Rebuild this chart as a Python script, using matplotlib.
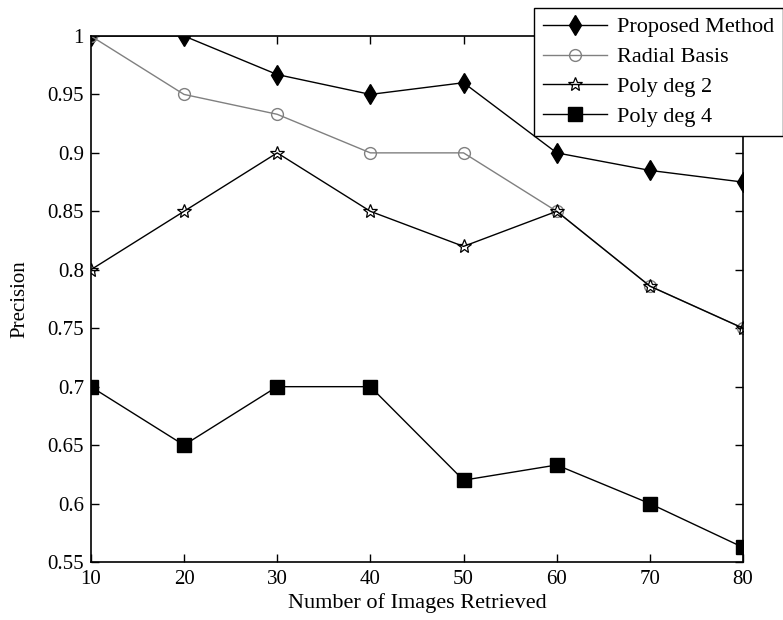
import matplotlib
matplotlib.use("Agg")
import matplotlib.pyplot as plt

x = [10, 20, 30, 40, 50, 60, 70, 80]
proposed = [1.0, 1.0, 0.967, 0.95, 0.96, 0.9, 0.885, 0.875]
radial = [1.0, 0.95, 0.933, 0.9, 0.9, 0.85, 0.786, 0.75]
poly2 = [0.8, 0.85, 0.9, 0.85, 0.82, 0.85, 0.786, 0.75]
poly4 = [0.7, 0.65, 0.7, 0.7, 0.62, 0.633, 0.6, 0.5625]
yticks = [0.55, 0.6, 0.65, 0.7, 0.75, 0.8, 0.85, 0.9, 0.95, 1.0]
ytick_labels = ["0.55", "0.6", "0.65", "0.7", "0.75", "0.8", "0.85", "0.9", "0.95", "1"]

plt.rcParams['font.family'] = ['Liberation Serif', 'DejaVu Serif']

fig = plt.figure(figsize=(7.83, 6.20), dpi=100)
ax = fig.add_axes([0.116, 0.0935, 0.833, 0.8485])

ax.plot(x, proposed, color='black', lw=1.0, marker='d', ms=10.5, mfc='black', mec='black',
        label='Proposed Method')
ax.plot(x, radial, color='#808080', lw=1.0, marker='o', ms=8.5, mfc='none', mec='#808080',
        label='Radial Basis')
ax.plot(x, poly2, color='black', lw=1.0, marker='*', ms=10, mfc='none', mec='black', mew=0.9,
        label='Poly deg 2')
ax.plot(x, poly4, color='black', lw=1.0, marker='s', ms=10.5, mfc='black', mec='black',
        label='Poly deg 4')

ax.set_xlim(10, 80)
ax.set_ylim(0.55, 1.0)
ax.set_xticks(x)
ax.set_yticks(yticks)
ax.set_yticklabels(ytick_labels)
ax.tick_params(direction='in', top=True, right=True, length=6, width=1, labelsize=15)
ax.tick_params(axis='y', pad=5)
ax.tick_params(axis='x', pad=6)
for s in ax.spines.values():
    s.set_linewidth(1.2)
ax.set_xlabel('Number of Images Retrieved', fontsize=16, labelpad=3)
ax.set_ylabel('Precision', fontsize=15, labelpad=13)

leg = ax.legend(loc='upper right', bbox_to_anchor=(783/783, 612/620),
                bbox_transform=fig.transFigure, fontsize=16, frameon=True, fancybox=False,
                edgecolor='black', framealpha=1, borderpad=0.4, labelspacing=0.42,
                handlelength=2.9, handletextpad=0.45, borderaxespad=0)
leg.get_frame().set_linewidth(1.0)

fig.savefig('out.png', dpi=100)
